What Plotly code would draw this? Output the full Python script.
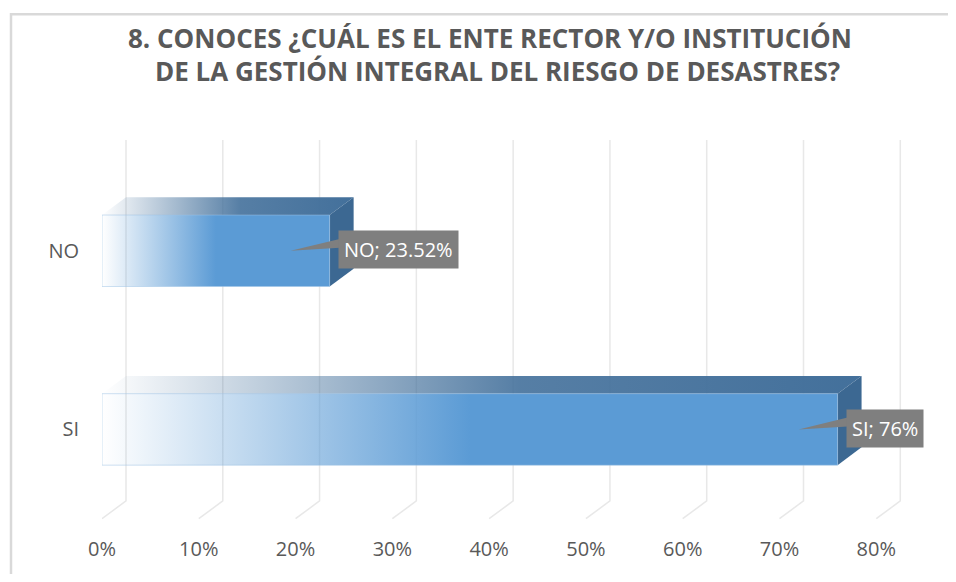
import plotly.graph_objects as go

# ---------------- data ----------------
categories = ["SI", "NO"]
values = [76, 23.52]
label_texts = ["SI; 76%", "NO; 23.52%"]
tick_values = [0, 10, 20, 30, 40, 50, 60, 70, 80]
tick_labels = ["0%", "10%", "20%", "30%", "40%", "50%", "60%", "70%", "80%"]
title_lines = ["8. CONOCES ¿CUÁL ES EL ENTE RECTOR Y/O INSTITUCIÓN",
               "DE LA GESTIÓN INTEGRAL DEL RIESGO DE DESASTRES?"]

# ---------------- layout geometry (style) ----------------
OFF = 8                      # page body margin
W, H = 956 - 2 * OFF, 582 - 2 * OFF
PL, PT = 102, 130            # plot-area left/top on screen
pw, ph = 813, 395
ML, MT = PL - OFF, PT - OFF
MR = W - ML - pw
MB = H - MT - ph
XR = [0, 84]
YR = [-0.5125, 1.676]
px_x = pw / (XR[1] - XR[0])
px_y = ph / (YR[1] - YR[0])
DX = 24 / px_x          # depth offset in x units
DY = 18 / px_y          # depth offset in y units
HH = 0.2                # half bar height
GRID_TOP = 1.62
GRID_BOT = -0.40

FRONT = "91,155,213"
TOP = "67,112,155"
SIDE = "#3c6892"
GRID = "#e8e8e8"
TXT = "#595959"
FONT = "Open Sans"

fig = go.Figure()

# back-wall gridlines with floor diagonal
gx, gy = [], []
for v in tick_values:
    gx += [v + DX, v + DX, v, None]
    gy += [GRID_TOP, GRID_BOT, GRID_BOT - DY, None]
fig.add_trace(go.Scatter(x=gx, y=gy, mode="lines",
                         line=dict(color=GRID, width=1.5),
                         hoverinfo="skip", showlegend=False))

# 3D bars
for i, (cat, v) in enumerate(zip(categories, values)):
    yc = i
    # top face
    fig.add_trace(go.Scatter(
        x=[0, v, v + DX, DX, 0],
        y=[yc + HH, yc + HH, yc + HH + DY, yc + HH + DY, yc + HH],
        mode="lines", line=dict(width=0, color="rgba(0,0,0,0)"),
        fill="toself",
        fillgradient=dict(type="horizontal",
                          colorscale=[[0, f"rgba({TOP},0)"],
                                      [0.55, f"rgba({TOP},0.9)"],
                                      [1, f"rgba({TOP},1)"]]),
        hoverinfo="skip", showlegend=False))
    # side face
    fig.add_trace(go.Scatter(
        x=[v, v + DX, v + DX, v, v],
        y=[yc - HH, yc - HH + DY, yc + HH + DY, yc + HH, yc - HH],
        mode="lines", line=dict(width=0, color="rgba(0,0,0,0)"),
        fill="toself", fillcolor=SIDE,
        hoverinfo="skip", showlegend=False))
    # front face
    fig.add_trace(go.Scatter(
        x=[0, v, v, 0, 0],
        y=[yc - HH, yc - HH, yc + HH, yc + HH, yc - HH],
        mode="lines", line=dict(width=1, color="rgba(157,195,230,0.5)"),
        fill="toself",
        fillgradient=dict(type="horizontal",
                          colorscale=[[0, f"rgba({FRONT},0)"],
                                      [0.5, f"rgba({FRONT},1)"],
                                      [1, f"rgba({FRONT},1)"]]),
        hovertemplate=f"{cat}: {v}%<extra></extra>", showlegend=False))
    # callout wedge
    bx = v + 8 / px_x
    fig.add_trace(go.Scatter(
        x=[v - 39 / px_x, bx + 2 / px_x, bx + 2 / px_x, v - 39 / px_x],
        y=[yc, yc + 12 / px_y, yc + 3 / px_y, yc],
        mode="lines", line=dict(width=0, color="rgba(0,0,0,0)"),
        fill="toself", fillcolor="#7f7f7f",
        hoverinfo="skip", showlegend=False))
    fig.add_annotation(x=bx, y=yc, xref="x", yref="y",
                       xanchor="left", yanchor="middle", yshift=1,
                       text=label_texts[i], showarrow=False,
                       bgcolor="#7f7f7f", borderpad=5,
                       font=dict(family=FONT, size=20, color="white"))

# title (two lines)
for line, xc, yc in zip(title_lines, [490, 497], [37, 70]):
    fig.add_annotation(x=(xc - PL) / pw, y=1 + (PT - yc) / ph,
                       xref="paper", yref="paper",
                       xanchor="center", yanchor="middle",
                       text=f"<b>{line}</b>", showarrow=False,
                       font=dict(family=FONT, size=26, color=TXT))

# outer chart border
fig.add_shape(type="rect", xref="paper", yref="paper",
              x0=(11 - PL) / pw, x1=(956 + 40 - PL) / pw,
              y0=-(582 - PT - ph + 40) / ph, y1=1 + (PT - 13) / ph,
              line=dict(color="#d9d9d9", width=2.5), layer="below")

fig.update_layout(
    width=W, height=H,
    margin=dict(l=ML, r=MR, t=MT, b=MB),
    paper_bgcolor="white", plot_bgcolor="white",
    xaxis=dict(range=XR, tickvals=tick_values, ticktext=tick_labels,
               showgrid=False, zeroline=False, showline=False, ticks="",
               ticklabelstandoff=14,
               tickfont=dict(family=FONT, size=20, color=TXT), fixedrange=True),
    yaxis=dict(range=YR, tickvals=list(range(len(categories))),
               ticktext=categories, showgrid=False, zeroline=False,
               showline=False, ticks="", ticklabelstandoff=22,
               tickfont=dict(family=FONT, size=20, color=TXT), fixedrange=True),
    showlegend=False,
)

fig.write_html("out.html")
